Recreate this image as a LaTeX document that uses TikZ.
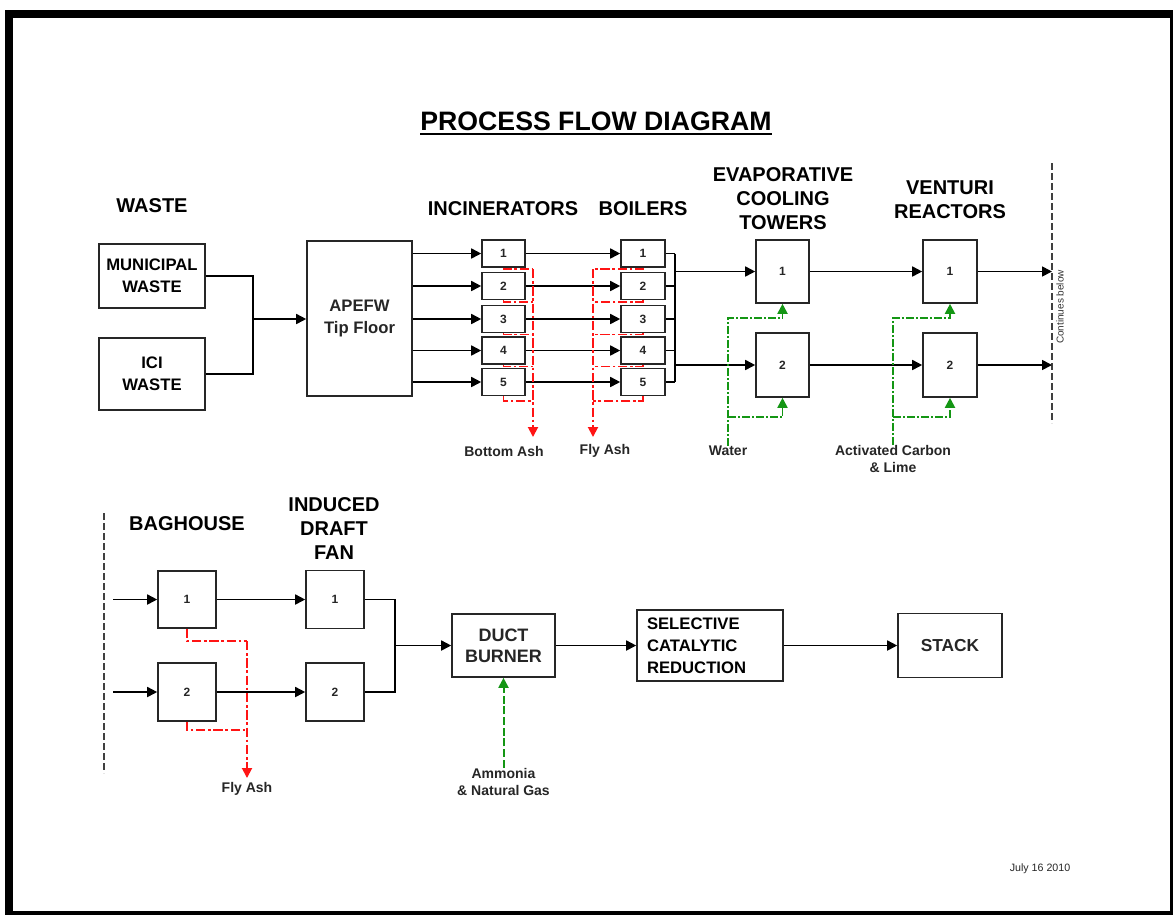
\documentclass[tikz,border=0pt]{standalone}
\usepackage{fontspec}
\setmainfont{Liberation Sans}
\usetikzlibrary{arrows.meta}
\newlength\PX \setlength\PX{0.75pt}
\definecolor{grn}{RGB}{20,150,20}
\definecolor{rdc}{RGB}{255,20,20}
\begin{document}
\begin{tikzpicture}[x=0.75pt,y=-0.75pt,
  sz/.style 2 args={minimum width=#1\PX, minimum height=#2\PX},
  box/.style={draw=black!85, line width=1.2pt, fill=white, inner sep=0pt, align=center, text=black!85, font=\bfseries\fontsize{9}{11}\selectfont},
  ln/.style={line width=1.25pt, draw=black},
  tip/.style={-{Triangle[length=7.5pt,width=7.5pt]}},
  arr/.style={ln, tip},
  rd/.style={draw=rdc, line width=1.4pt, dash pattern=on 7pt off 2pt on 2pt off 2pt},
  gr/.style={draw=grn, line width=1.4pt, dash pattern=on 6pt off 1.5pt on 1.5pt off 1.5pt},
  hdr/.style={font=\bfseries\fontsize{15}{18}\selectfont, align=center, inner sep=0pt},
  lbl/.style={font=\bfseries\fontsize{10.5}{12.75}\selectfont, align=center, text=black!85, inner sep=0pt},
  sep/.style={draw=black!75, line width=0.9pt, dash pattern=on 5pt off 2.5pt}
]
\useasboundingbox (0,0) rectangle (1173,915);
% frame
\fill[black] (5,10) rectangle (1173,915);
\fill[white] (13,18) rectangle (1170,911);

% title
\node[font=\bfseries\fontsize{20}{24}\selectfont, inner sep=0pt, anchor=base] (title) at (596,130) {PROCESS FLOW DIAGRAM};
\draw[line width=1.6pt] ([yshift=-3pt]title.base west) -- ([yshift=-3pt]title.base east);

% headers
\node[hdr] (hwaste) at (152,206) {WASTE};
\node[hdr] (hinc) at (503,209) {INCINERATORS};
\node[hdr] (hboil) at (643,209) {BOILERS};
\node[hdr] (hect) at (783,199) {EVAPORATIVE\\COOLING\\TOWERS};
\node[hdr] (hven) at (950,200) {VENTURI\\REACTORS};
\node[hdr] (hbag) at (187,524) {BAGHOUSE};
\node[hdr] (hidf) at (334,529) {INDUCED\\DRAFT\\FAN};

% waste boxes
\node[box, sz={106}{64}, font=\bfseries\fontsize{12.5}{16.5}\selectfont, text=black] (mun) at (152,276) {MUNICIPAL\\WASTE};
\node[box, sz={106}{72}, font=\bfseries\fontsize{12.5}{16.5}\selectfont, text=black] (ici) at (152,374) {ICI\\WASTE};
\node[box, sz={105}{155}, font=\bfseries\fontsize{12.5}{16.5}\selectfont] (ape) at (359.5,318.5) {APEFW\\Tip Floor};

\coordinate (jw) at (253,319);
\draw[ln] (mun.east) -| (jw) |- (ici.east);
\draw[arr] (jw) -- (jw -| ape.west);

% incinerators and boilers
\foreach \i/\y in {1/253.5,2/286,3/319,4/350.5,5/382}{
  \node[box, sz={43}{27}] (i\i) at (503.5,\y) {\i};
  \node[box, sz={44}{27}] (b\i) at (643,\y) {\i};
  \draw[arr] (i\i.west -| ape.east) -- (i\i.west);
  \draw[arr] (i\i) -- (b\i);
}

% ash lines
\coordinate (bae) at (533,437);
\coordinate (fae) at (593,437);
\foreach \i/\r in {1/269,2/302,3/334.5,4/366.5,5/401}{
  \coordinate (ba\i) at (533,\r);
  \coordinate (fa\i) at (593,\r);
  \draw[rd] (i\i.south) |- (ba\i);
  \draw[rd] (b\i.south) |- (fa\i);
}
\draw[rd, tip, rdc] (ba1) -- (bae);
\draw[rd, tip, rdc] (fa1) -- (fae);
\node[lbl] (bash) at (504,451) {Bottom Ash};
\node[lbl] (fash) at (605,451) {Fly Ash};

% boiler bus
\coordinate (bt) at (675,253.5);
\coordinate (bbm) at (675,382);
\draw[ln] (bt) -- (bbm);
\foreach \i in {1,...,5}{ \draw[ln] (b\i.east) -- (b\i.east -| bt); }

% cooling towers and venturi
\node[box, sz={53}{63}] (e1) at (782.5,271.5) {1};
\node[box, sz={53}{64}] (e2) at (782.5,365) {2};
\node[box, sz={54}{63}] (v1) at (950,271.5) {1};
\node[box, sz={54}{64}] (v2) at (950,365) {2};
\draw[arr] (e1.west -| bt) -- (e1.west);
\draw[arr] (e2.west -| bt) -- (e2.west);
\draw[arr] (e1) -- (v1);
\draw[arr] (e2) -- (v2);

% continues below
\coordinate (ct) at (1052,163);
\coordinate (cb) at (1052,423);
\draw[sep] (ct) -- (cb);
\draw[arr] (v1) -- (v1 -| ct);
\draw[arr] (v2) -- (v2 -| ct);
\node[rotate=90, font=\fontsize{7.5}{9}\selectfont, text=black!80, inner sep=0pt] (cont) at (1060,307) {Continues below};

% water
\node[lbl] (water) at (728,451) {Water};
\coordinate (wa) at (782.5,318);
\coordinate (wb) at (728,417);
\draw[gr, tip, grn] (water.north) |- (wa) -- (e1.south);
\draw[gr, tip, grn] (wb) -| (e2.south);

% activated carbon
\node[lbl] (acl) at (893,459) {Activated Carbon\\\& Lime};
\coordinate (va) at (950,318);
\coordinate (vb) at (893,417);
\draw[gr, tip, grn] (acl.north) |- (va) -- (v1.south);
\draw[gr, tip, grn] (vb) -| (v2.south);

% lower section
\draw[sep] (104,513) coordinate (lt) -- (104,773) coordinate (lb);
\node[box, sz={58}{57}] (bg1) at (187,599.5) {1};
\node[box, sz={58}{58}] (bg2) at (187,692) {2};
\node[box, sz={58}{58}] (f1) at (335,599.5) {1};
\node[box, sz={58}{58}] (f2) at (335,692) {2};
\coordinate (in1) at (113,599.5);
\coordinate (in2) at (113,692);
\draw[arr] (in1) -- (bg1.west);
\draw[arr] (in2) -- (bg2.west);
\draw[arr] (bg1) -- (f1);
\draw[arr] (bg2) -- (f2);

% baghouse fly ash
\coordinate (fl1) at (247,641);
\coordinate (fl2) at (247,730);
\coordinate (fle) at (247,778);
\draw[rd] (bg1.south) |- (fl1);
\draw[rd] (bg2.south) |- (fl2);
\draw[rd, tip, rdc] (fl1) -- (fle);
\node[lbl] (fash2) at (247,789) {Fly Ash};

% duct burner, SCR, stack
\node[box, sz={103}{63}, font=\bfseries\fontsize{13.5}{16}\selectfont] (duct) at (503.5,645.5) {DUCT\\BURNER};
\node[box, sz={146}{71}, text width=126\PX, align=left, font=\bfseries\fontsize{12.5}{16.5}\selectfont, text=black] (scr) at (710,645.5) {SELECTIVE\\CATALYTIC\\REDUCTION};
\node[box, sz={104}{64}, font=\bfseries\fontsize{13}{16}\selectfont] (stack) at (950,645.5) {STACK};

\coordinate (jm) at (395,645.5);
\draw[ln] (f1.east) -| (jm);
\draw[ln] (f2.east) -| (jm);
\draw[arr] (jm) -- (duct.west);
\draw[arr] (duct) -- (scr);
\draw[arr] (scr) -- (stack);

% ammonia
\node[lbl] (amm) at (503.5,781.5) {Ammonia\\\& Natural Gas};
\draw[draw=grn, line width=1.5pt, dash pattern=on 6pt off 2pt, tip, grn] (amm.north) -- (duct.south);

% date
\node[font=\fontsize{8}{10}\selectfont, text=black!85, inner sep=0pt] (date) at (1040,869) {July 16 2010};
\end{tikzpicture}
\end{document}
